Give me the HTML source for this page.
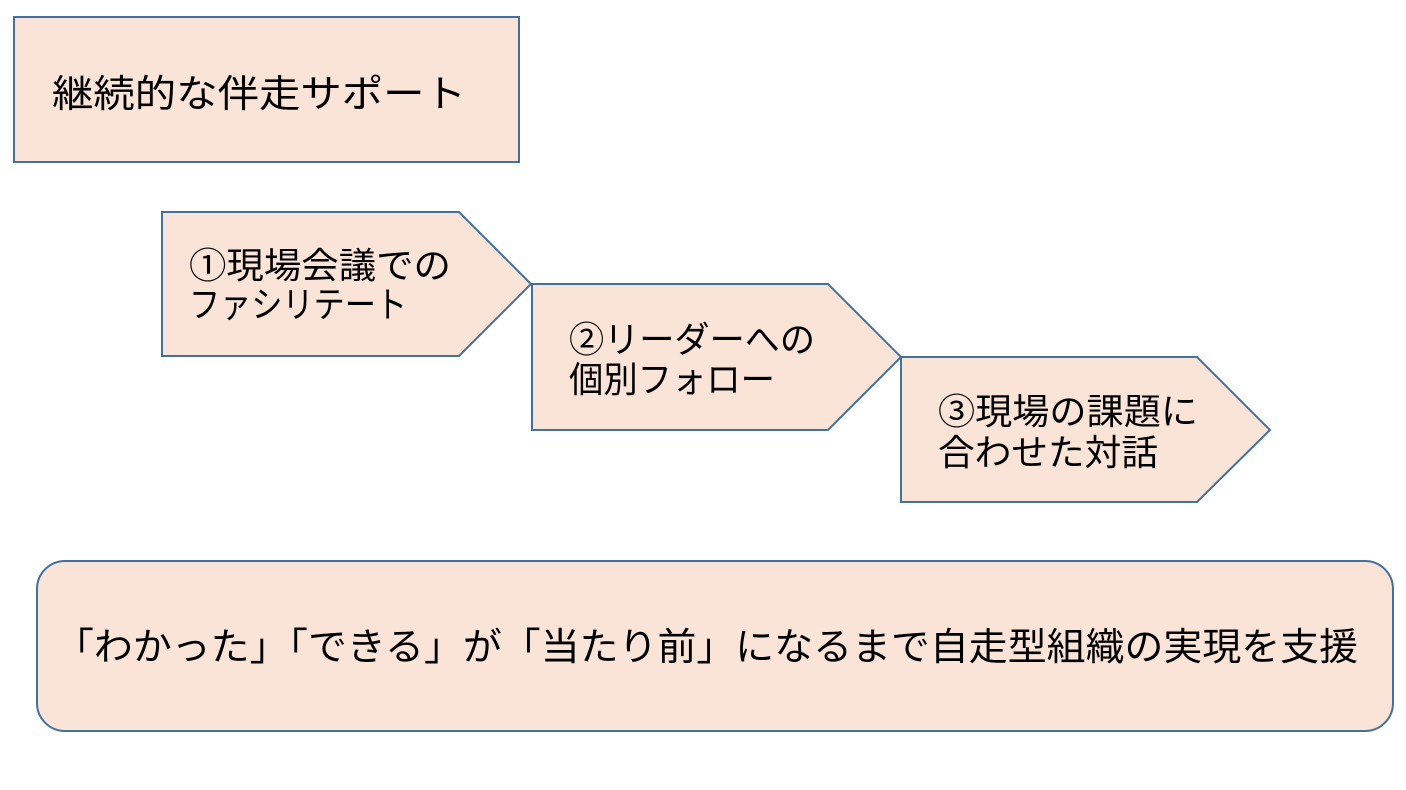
<!DOCTYPE html>
<html><head><meta charset="utf-8"><style>
html,body{margin:0;padding:0;background:#fff;}
svg{display:block;}
text{font-family:"Liberation Sans","Noto Sans CJK JP",sans-serif;fill:#000;}
</style></head><body>
<svg width="1406" height="790" viewBox="0 0 1406 790" xmlns="http://www.w3.org/2000/svg">
<g fill="#FAE4D7" stroke="#41719C" stroke-width="2">
<rect x="14" y="17" width="505" height="145"/>
<polygon points="162,212 459,212 531,284 459,356 162,356"/>
<polygon points="532,284 828,284 901,357 828,430 532,430"/>
<polygon points="901,357 1197,357 1270,430 1197,502 901,502"/>
<rect x="37" y="561" width="1356" height="170" rx="28" ry="28"/>
</g>
<text x="52" y="107" font-size="38" textLength="414" lengthAdjust="spacingAndGlyphs">継続的な伴走サポート</text>
<text x="189" y="278" font-size="36" textLength="262" lengthAdjust="spacingAndGlyphs">①現場会議での</text>
<text x="189" y="317" font-size="36" textLength="218" lengthAdjust="spacingAndGlyphs">ファシリテート</text>
<text x="569" y="352" font-size="36" textLength="246" lengthAdjust="spacingAndGlyphs">②リーダーへの</text>
<text x="569" y="392" font-size="36" textLength="206" lengthAdjust="spacingAndGlyphs">個別フォロー</text>
<text x="938" y="424" font-size="36" textLength="260" lengthAdjust="spacingAndGlyphs">③現場の課題に</text>
<text x="938" y="465" font-size="36" textLength="220" lengthAdjust="spacingAndGlyphs">合わせた対話</text>
<text x="55" y="660" font-size="38" textLength="1303" lengthAdjust="spacingAndGlyphs">「わかった」「できる」が「当たり前」になるまで自走型組織の実現を支援</text>
</svg>
</body></html>
